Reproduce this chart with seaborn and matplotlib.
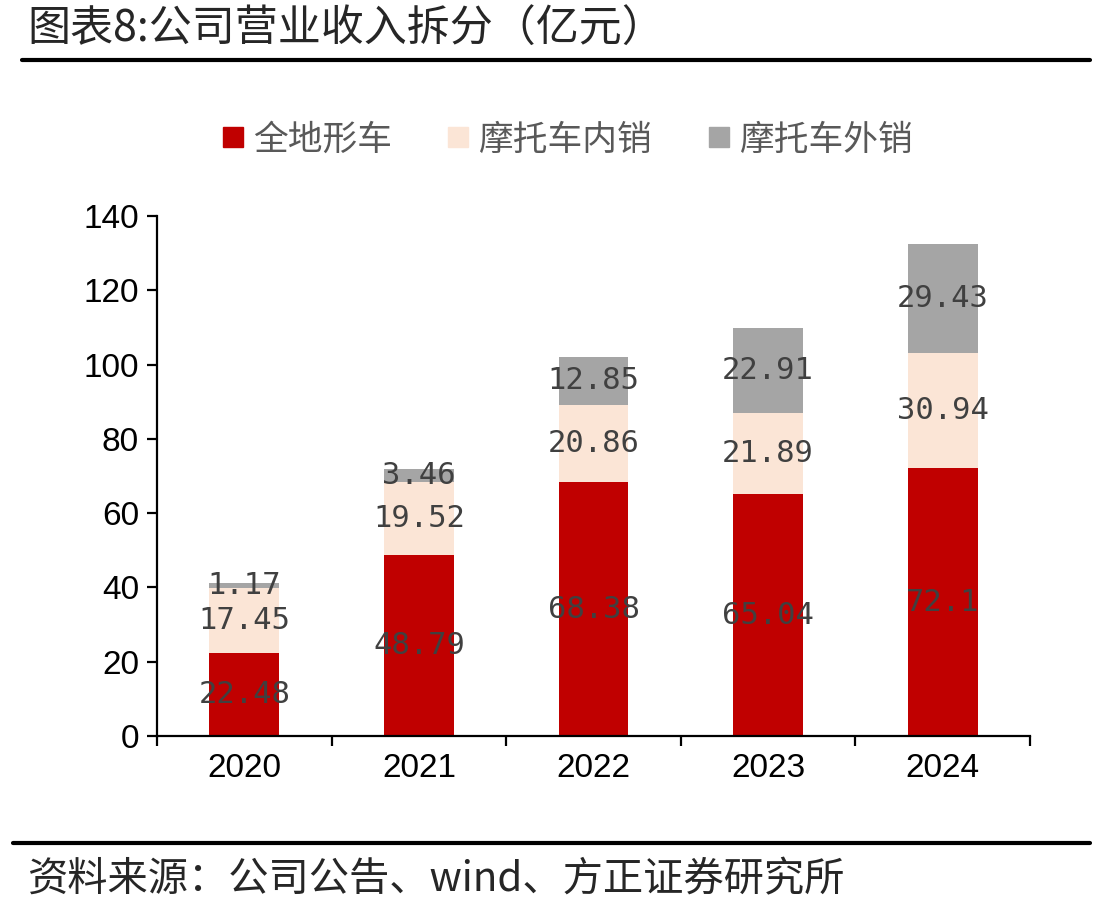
import numpy as np
import pandas as pd
import seaborn as sns
import matplotlib.pyplot as plt
from matplotlib.lines import Line2D

# 数据
years = ['2020', '2021', '2022', '2023', '2024']
atv = [22.48, 48.79, 68.38, 65.04, 72.1]          # 全地形车
moto_dom = [17.45, 19.52, 20.86, 21.89, 30.94]    # 摩托车内销
moto_exp = [1.17, 3.46, 12.85, 22.91, 29.43]      # 摩托车外销
series_names = ['全地形车', '摩托车内销', '摩托车外销']
colors = ['#C00000', '#FBE5D6', '#A5A5A5']

sns.set_style('white')
plt.rcParams['font.family'] = ['Noto Sans CJK SC', 'DejaVu Sans']

df = pd.DataFrame({'year': years, 'atv': atv, 'dom': moto_dom, 'exp': moto_exp})
df['s1'] = df['atv']
df['s2'] = df['atv'] + df['dom']
df['s3'] = df['s2'] + df['exp']

fig = plt.figure(figsize=(11.08, 9.15), dpi=100)
ax = fig.add_axes([0.1417, 0.1956, 0.7879, 0.5683])

# 堆叠柱：从总量往下叠画
for col, c in zip(['s3', 's2', 's1'], colors[::-1]):
    sns.barplot(data=df, x='year', y=col, color=c, width=0.4, saturation=1,
                ax=ax, errorbar=None, linewidth=0)

# 数据标签
bottoms = [np.zeros(len(years)), np.array(atv), np.array(atv) + np.array(moto_dom)]
for vals, bot in zip([atv, moto_dom, moto_exp], bottoms):
    for i, v in enumerate(vals):
        ax.text(i, bot[i] + v / 2, f'{v:g}', ha='center', va='center',
                fontsize=22, color='#404040', family='DejaVu Sans Mono')

ax.set_ylim(0, 140)
ax.set_yticks(range(0, 141, 20))
ax.set_xlim(-0.5, 4.5)
ax.set_xlabel('')
ax.set_ylabel('')
for s in ['top', 'right']:
    ax.spines[s].set_visible(False)
for s in ['left', 'bottom']:
    ax.spines[s].set_linewidth(1.6)
    ax.spines[s].set_color('black')
ax.tick_params(axis='y', which='major', direction='out', length=7, width=1.6,
               left=True, labelsize=24, pad=6, labelcolor='black', color='black')
ax.tick_params(axis='x', which='major', length=0, labelsize=24, pad=12, labelcolor='black')
ax.set_xticks(np.arange(-0.5, 5, 1), minor=True)
ax.tick_params(axis='x', which='minor', direction='out', length=7, width=1.6,
               bottom=True, color='black')
for lab in ax.get_xticklabels() + ax.get_yticklabels():
    lab.set_family('Liberation Sans')

# 图例
handles = [Line2D([], [], marker='s', ls='', color=c, markersize=14) for c in colors]
fig.legend(handles, series_names, loc='center', bbox_to_anchor=(0.511, 0.847), ncol=3,
           frameon=False, fontsize=25, labelcolor='#595959', handletextpad=0.2,
           columnspacing=1.5, handlelength=0.8)

# 标题与来源
fig.text(0.025, 0.967, '图表8:公司营业收入拆分（亿元）', fontsize=31, va='center', ha='left')
fig.add_artist(Line2D([0.02, 0.984], [0.934, 0.934], color='black', lw=3))
fig.add_artist(Line2D([0.012, 0.984], [0.079, 0.079], color='black', lw=3))
fig.text(0.025, 0.038, '资料来源：公司公告、wind、方正证券研究所', fontsize=29,
         va='center', ha='left', style='italic')

fig.savefig('out.png', dpi=100)
